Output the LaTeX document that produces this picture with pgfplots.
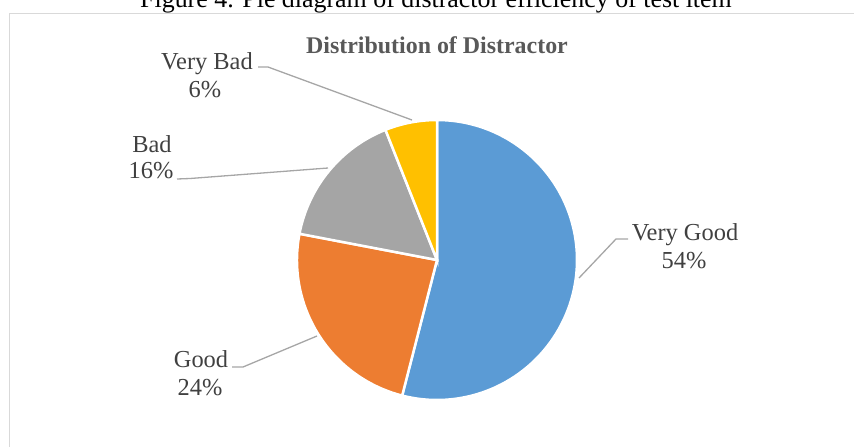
\documentclass[border=0pt]{standalone}
\usepackage{pgfplots}
\pgfplotsset{compat=1.18}
\usepackage{pgfplotstable}
\usepackage{fontspec}
\setmainfont{Liberation Serif}
\definecolor{cBlue}{HTML}{5B9BD5}
\definecolor{cOrange}{HTML}{ED7D31}
\definecolor{cGray}{HTML}{A5A5A5}
\definecolor{cYellow}{HTML}{FFC000}
\definecolor{cText}{HTML}{404040}
\definecolor{cTitle}{HTML}{595959}
\definecolor{cLead}{HTML}{A6A6A6}
\definecolor{cFrame}{HTML}{D9D9D9}
\pgfplotstableread{
label value
VeryGood 54
Good 24
Bad 16
VeryBad 6
}\piedata
\begin{document}
\begin{tikzpicture}
\pgfplotstablegetelem{0}{value}\of\piedata \let\vA\pgfplotsretval
\pgfplotstablegetelem{1}{value}\of\piedata \let\vB\pgfplotsretval
\pgfplotstablegetelem{2}{value}\of\piedata \let\vC\pgfplotsretval
\pgfplotstablegetelem{3}{value}\of\piedata \let\vD\pgfplotsretval
\pgfmathsetmacro\aO{90}
\pgfmathsetmacro\aA{\aO-3.6*\vA}
\pgfmathsetmacro\aB{\aA-3.6*\vB}
\pgfmathsetmacro\aC{\aB-3.6*\vC}
\pgfmathsetmacro\aD{\aC-3.6*\vD}
\clip (0,0) rectangle (854bp,447bp);
\begin{axis}[at={(0,0)},anchor=south west,scale only axis,
  x=1bp,y=1bp,y dir=reverse,xmin=0,xmax=854,ymin=0,ymax=447,
  hide axis,clip=false]
\draw[cFrame,line width=1.5bp] (axis cs:9.5,13.5) rectangle (axis cs:870,470);
% caption (cut off at top)
\node[anchor=base,text=black,font=\fontsize{26}{30}\selectfont] at (axis cs:436,7.5) {Figure 4. Pie diagram of distractor efficiency of test item};
% title
\node[anchor=base,text=cTitle,font=\fontsize{24}{28}\selectfont\bfseries] at (axis cs:437,53) {Distribution of Distractor};
% slices
\filldraw[fill=cBlue,draw=white,line width=2.5bp] (axis cs:437,260) -- ++(\aO:140bp) arc[start angle=\aO,end angle=\aA,radius=140bp] -- cycle;
\filldraw[fill=cOrange,draw=white,line width=2.5bp] (axis cs:437,260) -- ++(\aA:140bp) arc[start angle=\aA,end angle=\aB,radius=140bp] -- cycle;
\filldraw[fill=cGray,draw=white,line width=2.5bp] (axis cs:437,260) -- ++(\aB:140bp) arc[start angle=\aB,end angle=\aC,radius=140bp] -- cycle;
\filldraw[fill=cYellow,draw=white,line width=2.5bp] (axis cs:437,260) -- ++(\aC:140bp) arc[start angle=\aC,end angle=\aD,radius=140bp] -- cycle;
% leader lines
\draw[cLead,line width=1.3bp] (axis cs:628,239) -- (axis cs:616,239) -- (axis cs:579,278);
\draw[cLead,line width=1.3bp] (axis cs:232,367) -- (axis cs:243,367) -- (axis cs:317,336);
\draw[cLead,line width=1.3bp] (axis cs:177,179) -- (axis cs:190,178.5) -- (axis cs:328,168);
\draw[cLead,line width=1.3bp] (axis cs:258,67) -- (axis cs:268,67) -- (axis cs:412,120);
% labels
\begin{scope}[every node/.style={anchor=base,text=cText,font=\fontsize{24.5}{29}\selectfont}]
\node at (axis cs:685,240) {Very Good};
\node at (axis cs:684,268) {\vA\%};
\node at (axis cs:201,367) {Good};
\node at (axis cs:200,395) {\vB\%};
\node at (axis cs:152,152) {Bad};
\node at (axis cs:151,178) {\vC\%};
\node at (axis cs:207,69) {Very Bad};
\node at (axis cs:205,97) {\vD\%};
\end{scope}
\end{axis}
\end{tikzpicture}
\end{document}
